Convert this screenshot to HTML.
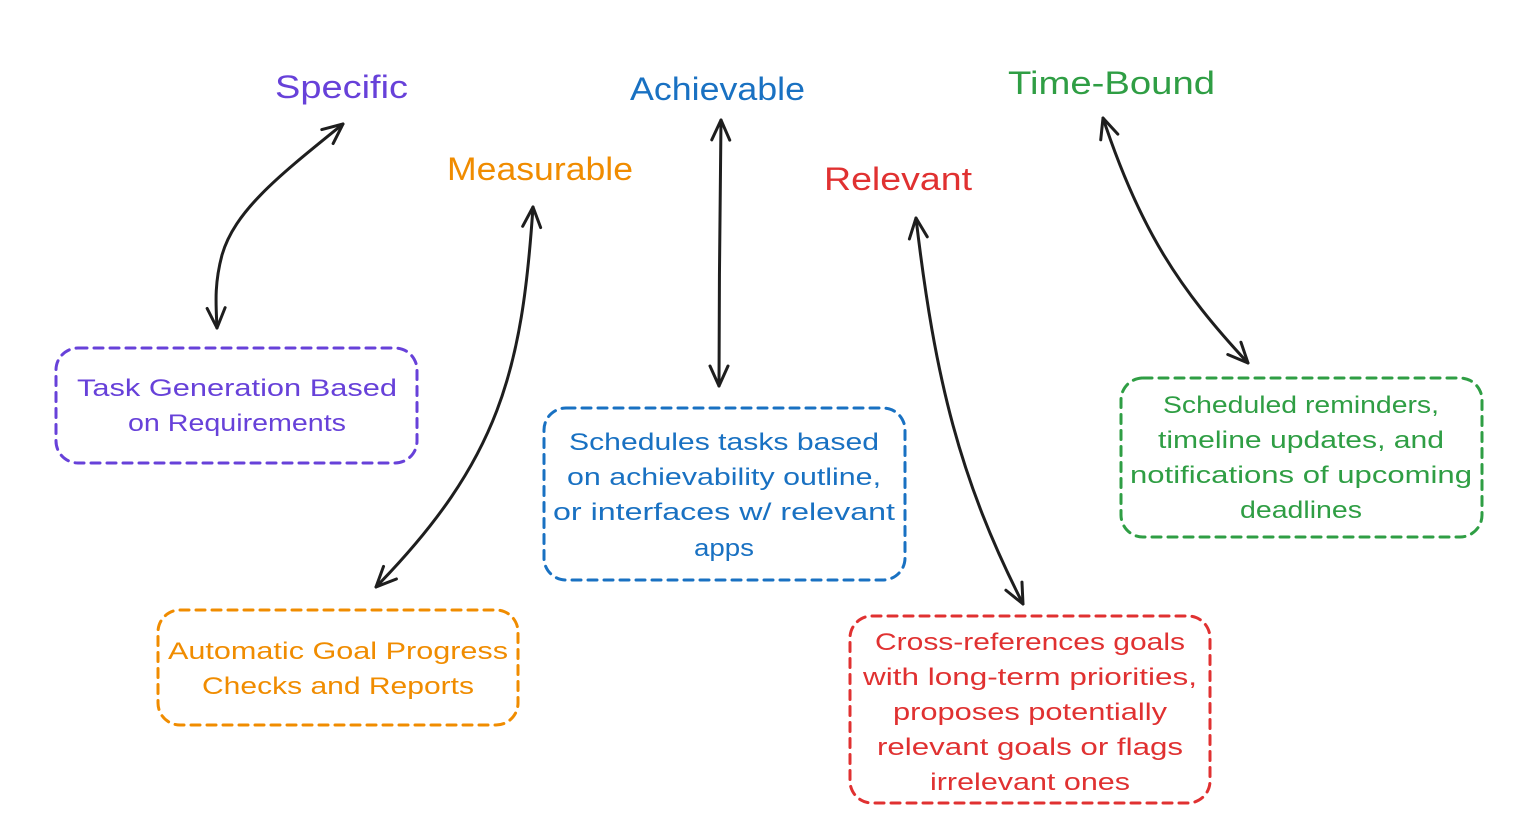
<!DOCTYPE html>
<html><head><meta charset="utf-8"><style>
html,body{margin:0;padding:0;background:#fff;}
svg{display:block;}
text{font-family:"Liberation Sans",sans-serif;}
</style></head><body>
<svg width="1525" height="820" viewBox="0 0 1525 820" xmlns="http://www.w3.org/2000/svg">
<defs>
<marker id="ah" viewBox="0 0 24 24" refX="22" refY="12" markerWidth="24" markerHeight="24" markerUnits="userSpaceOnUse" orient="auto-start-reverse">
<path d="M2,3 L22,12 L2,21" fill="none" stroke="#1e1e1e" stroke-width="3" stroke-linecap="round" stroke-linejoin="round"/>
</marker>
</defs>
<rect width="1525" height="820" fill="#fff"/>

<g font-size="32">
<text x="275" y="98" fill="#6741d9" textLength="133" lengthAdjust="spacingAndGlyphs">Specific</text>
<text x="447" y="180" fill="#f08c00" textLength="186" lengthAdjust="spacingAndGlyphs">Measurable</text>
<text x="630" y="100" fill="#1971c2" textLength="175" lengthAdjust="spacingAndGlyphs">Achievable</text>
<text x="824" y="190" fill="#e03131" textLength="148" lengthAdjust="spacingAndGlyphs">Relevant</text>
<text x="1008" y="94" fill="#2f9e44" textLength="207" lengthAdjust="spacingAndGlyphs">Time-Bound</text>
</g>

<g fill="none" stroke="#1e1e1e" stroke-width="3" stroke-linecap="round" marker-start="url(#ah)" marker-end="url(#ah)">
<path d="M343,124 C280,175 235,210 222,255 C214,285 216,305 217,328"/>
<path d="M533,207 C522,370 500,460 376,587"/>
<path d="M721,120 C720,200 719,300 719,386"/>
<path d="M916,218 C935,380 960,480 1023,604"/>
<path d="M1103,118 C1140,230 1180,290 1248,363"/>
</g>

<g fill="none" stroke-width="3" stroke-dasharray="9 7" stroke-linecap="round">
<rect x="56" y="348" width="361" height="115" rx="22" stroke="#6741d9"/>
<rect x="158" y="610" width="360" height="115" rx="22" stroke="#f08c00"/>
<rect x="544" y="408" width="361" height="172" rx="22" stroke="#1971c2"/>
<rect x="850" y="616" width="360" height="187" rx="22" stroke="#e03131"/>
<rect x="1121" y="378" width="361" height="159" rx="22" stroke="#2f9e44"/>
</g>

<g font-size="24" text-anchor="middle">
<g fill="#6741d9">
<text x="237" y="396" textLength="320" lengthAdjust="spacingAndGlyphs">Task Generation Based</text>
<text x="237" y="431" textLength="218" lengthAdjust="spacingAndGlyphs">on Requirements</text>
</g>
<g fill="#f08c00">
<text x="338" y="659" textLength="340" lengthAdjust="spacingAndGlyphs">Automatic Goal Progress</text>
<text x="338" y="694" textLength="272" lengthAdjust="spacingAndGlyphs">Checks and Reports</text>
</g>
<g fill="#1971c2">
<text x="724" y="450" textLength="310" lengthAdjust="spacingAndGlyphs">Schedules tasks based</text>
<text x="724" y="485" textLength="314" lengthAdjust="spacingAndGlyphs">on achievability outline,</text>
<text x="724" y="520" textLength="342" lengthAdjust="spacingAndGlyphs">or interfaces w/ relevant</text>
<text x="724" y="556" textLength="60" lengthAdjust="spacingAndGlyphs">apps</text>
</g>
<g fill="#e03131">
<text x="1030" y="650" textLength="310" lengthAdjust="spacingAndGlyphs">Cross-references goals</text>
<text x="1030" y="685" textLength="334" lengthAdjust="spacingAndGlyphs">with long-term priorities,</text>
<text x="1030" y="720" textLength="274" lengthAdjust="spacingAndGlyphs">proposes potentially</text>
<text x="1030" y="755" textLength="306" lengthAdjust="spacingAndGlyphs">relevant goals or flags</text>
<text x="1030" y="790" textLength="200" lengthAdjust="spacingAndGlyphs">irrelevant ones</text>
</g>
<g fill="#2f9e44">
<text x="1301" y="413" textLength="276" lengthAdjust="spacingAndGlyphs">Scheduled reminders,</text>
<text x="1301" y="448" textLength="286" lengthAdjust="spacingAndGlyphs">timeline updates, and</text>
<text x="1301" y="483" textLength="342" lengthAdjust="spacingAndGlyphs">notifications of upcoming</text>
<text x="1301" y="518" textLength="122" lengthAdjust="spacingAndGlyphs">deadlines</text>
</g>
</g>
</svg>
</body></html>
